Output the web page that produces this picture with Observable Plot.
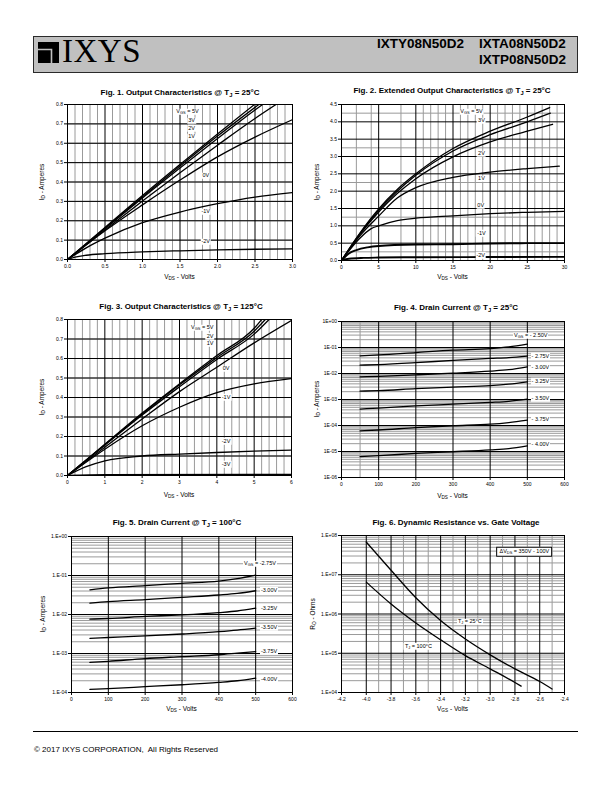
<!DOCTYPE html>
<html><head><meta charset="utf-8">
<script src="https://cdn.jsdelivr.net/npm/d3@7"></script>
<script src="https://cdn.jsdelivr.net/npm/@observablehq/plot@0.6"></script>
<style>
body{margin:0;background:#fff;}
#page{position:relative;width:612px;height:792px;overflow:hidden;background:#fff;font-family:"Liberation Sans",Arial,sans-serif;color:#000}
.abs{position:absolute;white-space:nowrap;line-height:1}
sub{font-size:72%;vertical-align:-0.3em;line-height:0}
.title{font-weight:bold;font-size:8px;transform:translate(-50%,-50%)}
.axl{font-size:6.5px;transform:translate(-50%,-50%)}
.ayl{font-size:6.5px;transform:translate(-50%,-50%) rotate(-90deg)}
.note{font-size:5.5px;background:#fff;padding:0.5px 1px}
</style></head><body><div id="page"></div>
<script>
// ---------------- DATA ----------------
// Fig. 1  Output characteristics @ 25C : [VDS, ID]
const f1_5V  = [[0,0],[0.5,0.165],[1,0.33],[1.5,0.49],[2,0.648],[2.5,0.802]];
const f1_3V  = [[0,0],[0.5,0.162],[1,0.324],[1.5,0.482],[2,0.637],[2.55,0.8]];
const f1_2V  = [[0,0],[0.5,0.159],[1,0.318],[1.5,0.472],[2,0.624],[2.5,0.772],[2.6,0.8]];
const f1_1V  = [[0,0],[0.5,0.152],[1,0.302],[1.5,0.448],[2,0.59],[2.5,0.728],[2.78,0.8]];
const f1_0V  = [[0,0],[0.5,0.148],[1,0.282],[1.5,0.41],[2,0.53],[2.5,0.632],[3,0.722]];
const f1_m1V = [[0,0],[0.25,0.06],[0.5,0.11],[1,0.19],[1.5,0.245],[2,0.288],[2.5,0.322],[3,0.345]];
const f1_m2V = [[0,0],[0.1,0.012],[0.25,0.022],[0.5,0.03],[1,0.039],[1.5,0.045],[2,0.05],[2.5,0.053],[3,0.055]];
const f1_labels = [[1.77,0.76,"V<sub>GS</sub> = 5V","end"],[1.72,0.714,"3V","end"],[1.72,0.676,"2V","end"],[1.72,0.632,"1V","end"],[1.85,0.43,"0V","middle"],[1.85,0.245,"-1V","middle"],[1.85,0.09,"-2V","middle"]];
const f1_xTicks = [0,0.5,1,1.5,2,2.5,3];
const f1_yTicks = [0,0.1,0.2,0.3,0.4,0.5,0.6,0.7,0.8];

// Fig. 2  Extended output characteristics @ 25C
const f2_5V  = [[0,0],[1,0.33],[2.5,0.8],[5,1.49],[7.5,2.05],[10,2.5],[15,3.23],[20,3.73],[25,4.14],[28,4.41]];
const f2_3V  = [[0,0],[1,0.32],[2.5,0.78],[5,1.45],[7.5,2.0],[10,2.46],[15,3.16],[20,3.63],[25,4.0],[28.1,4.25]];
const f2_2V  = [[0,0],[1,0.31],[2.5,0.76],[5,1.4],[7.5,1.93],[10,2.36],[15,2.99],[20,3.42],[25,3.73],[28.4,3.93]];
const f2_1V  = [[0,0],[1,0.3],[2.5,0.72],[5,1.28],[7.5,1.8],[10,2.1],[15,2.4],[20,2.55],[25,2.65],[29.3,2.72]];
const f2_0V  = [[0,0],[1,0.28],[2.5,0.65],[4,0.92],[5,1.0],[7.5,1.15],[10,1.22],[15,1.29],[20,1.35],[25,1.39],[30,1.42]];
const f2_m1V = [[0,0],[1,0.2],[2,0.3],[3.5,0.38],[5,0.42],[10,0.46],[15,0.47],[20,0.49],[25,0.5],[30,0.5]];
const f2_m2V = [[0,0],[1,0.05],[3,0.075],[5,0.085],[10,0.095],[20,0.1],[30,0.105]];
const f2_labels = [[19.2,4.27,"V<sub>GS</sub> = 5V","end"],[18.9,4.01,"3V","middle"],[18.9,3.06,"2V","middle"],[18.9,2.35,"1V","middle"],[18.8,1.56,"0V","middle"],[18.9,0.77,"-1V","middle"],[18.8,0.14,"-2V","middle"]];
const f2_xTicks = [0,5,10,15,20,25,30];
const f2_yTicks = [0,0.5,1,1.5,2,2.5,3,3.5,4,4.5];

// Fig. 3  Output characteristics @ 125C
const f3_5V  = [[0,0],[1,0.16],[2,0.32],[3,0.47],[4,0.615],[5,0.755],[5.2,0.8]];
const f3_2V  = [[0,0],[1,0.158],[2,0.315],[3,0.465],[4,0.605],[5,0.74],[5.3,0.8]];
const f3_1V  = [[0,0],[1,0.155],[2,0.31],[3,0.455],[4,0.595],[5,0.725],[5.4,0.8]];
const f3_0V  = [[0,0],[1,0.145],[2,0.29],[3,0.43],[4,0.555],[5,0.68],[6,0.795]];
const f3_m1V = [[0,0],[1,0.135],[2,0.255],[3,0.35],[4,0.425],[5,0.47],[6,0.497]];
const f3_m2V = [[0,0],[0.5,0.045],[1,0.075],[2,0.1],[3,0.11],[4,0.118],[5,0.125],[6,0.13]];
const f3_m3V = [[0,0],[1,0.004],[6,0.006]];
const f3_labels = [[3.95,0.754,"V<sub>GS</sub> = 5V","end"],[3.95,0.711,"2V","end"],[3.95,0.672,"1V","end"],[4.26,0.545,"0V","middle"],[4.26,0.40,"-1V","middle"],[4.26,0.173,"-2V","middle"],[4.26,0.054,"-3V","middle"]];
const f3_xTicks = [0,1,2,3,4,5,6];
const f3_yTicks = [0,0.1,0.2,0.3,0.4,0.5,0.6,0.7,0.8];

// Fig. 4  Drain current @ 25C (log)
const f4_vds   = [50,100,200,300,400,450,500];
const f4_m250 = [0.048,0.052,0.064,0.079,0.091,0.105,0.134];
const f4_m275 = [0.021,0.022,0.026,0.032,0.038,0.041,0.047];
const f4_m300 = [0.0074,0.0078,0.0089,0.0103,0.0123,0.014,0.018];
const f4_m325 = [0.0021,0.0022,0.0026,0.0030,0.0034,0.0039,0.0048];
const f4_m350 = [0.00043,0.00047,0.00057,0.00066,0.00077,0.00085,0.00103];
const f4_m375 = [6.2e-5,6.7e-5,8.3e-5,9.8e-5,1.12e-4,1.3e-4,1.6e-4];
const f4_m400 = [6.4e-6,6.9e-6,8.4e-6,9.8e-6,1.16e-5,1.3e-5,1.65e-5];
const f4_labels = [[463,0.265,"V<sub>GS</sub> = - 2.50V","start"],[510,0.044,"- 2.75V","start"],[510,0.017,"- 3.00V","start"],[510,0.0048,"- 3.25V","start"],[510,0.00103,"- 3.50V","start"],[510,1.6e-4,"- 3.75V","start"],[510,1.8e-5,"- 4.00V","start"]];
const f4_xTicks = [0,100,200,300,400,500,600];
const f4_yTicks = [1e-6,1e-5,1e-4,1e-3,1e-2,1e-1,1];

// Fig. 5  Drain current @ 100C (log)
const f5_vds   = [50,100,200,300,400,450,500];
const f5_m275 = [0.043,0.048,0.055,0.063,0.072,0.083,0.102];
const f5_m300 = [0.0195,0.0214,0.024,0.0275,0.0316,0.0347,0.0407];
const f5_m325 = [0.0076,0.0079,0.0089,0.0098,0.0112,0.0123,0.0145];
const f5_m350 = [0.00245,0.00257,0.00282,0.00316,0.00363,0.00398,0.00447];
const f5_m375 = [0.00059,0.00063,0.00074,0.00083,0.00093,0.00102,0.00112];
const f5_m400 = [1.2e-4,1.26e-4,1.41e-4,1.58e-4,1.82e-4,2.0e-4,2.34e-4];
const f5_labels = [[467,0.195,"V<sub>GS</sub> = -2.75V","start"],[513,0.041,"-3.00V","start"],[513,0.0138,"-3.25V","start"],[513,0.0045,"-3.50V","start"],[513,0.00107,"-3.75V","start"],[513,2.1e-4,"-4.00V","start"]];
const f5_xTicks = [0,100,200,300,400,500,600];
const f5_yTicks = [1e-4,1e-3,1e-2,1e-1,1];

// Fig. 6  Dynamic resistance vs gate voltage (log)
const f6_vgs25  = [-4.0,-3.8,-3.6,-3.4,-3.2,-3.0,-2.8,-2.6,-2.5];
const f6_ro25   = [6.8e7,1.3e7,2.6e6,6.8e5,2.3e5,9.1e4,4.0e4,1.9e4,1.23e4];
const f6_vgs100 = [-4.0,-3.8,-3.6,-3.4,-3.2,-3.0,-2.8,-2.75];
const f6_ro100  = [6.5e6,1.8e6,5.9e5,2.2e5,8.7e4,4.0e4,1.8e4,1.45e4];
const f6_labels = [[-3.16,10**5.79,"T<sub>J</sub> = 25°C","middle"],[-3.575,10**5.17,"T<sub>J</sub> = 100°C","middle"]];
const f6_box = [-2.72,10**7.57,"ΔV<sub>DS</sub> = 350V - 100V"];
const f6_xTicks = [-4.2,-4.0,-3.8,-3.6,-3.4,-3.2,-3.0,-2.8,-2.6,-2.4];
const f6_yTicks = [1e4,1e5,1e6,1e7,1e8];

// ---------------- HELPERS ----------------
const page = document.getElementById("page");
function addDiv(html, cls, css){const d=document.createElement("div");d.className="abs "+(cls||"");d.innerHTML=html;Object.assign(d.style,css||{});page.append(d);return d;}
const fmt1 = v => v.toFixed(1);
const fmtInt = v => String(v);
const logE = v => {const e=Math.round(Math.log10(v));return (e<0?"-":"+")+String(Math.abs(e)).padStart(2,"0");};
const fmtE = v => "1E"+logE(v);
const fmtDotE = v => "1.E"+logE(v);
function logMinor(e0,e1){const out=[];for(let e=e0;e<e1;e++)for(let k=2;k<=9;k++)out.push(k*10**e);return out;}
function logMajor(e0,e1){const out=[];for(let e=e0+1;e<e1;e++)out.push(10**e);return out;}
const pairs = (xs,ys)=>xs.map((x,i)=>[x,ys[i]]);

function chart(cfg){
  const [x0,y0,x1,y1]=cfg.frame;
  const left=x0-40, top=y0-6, width=(x1+8)-left, height=(y1+16)-top;
  const marks=[
    Plot.ruleX(cfg.xMinor,{stroke:"#9a9a9a",strokeWidth:1}),
    Plot.ruleY(cfg.yMinor,{stroke:"#9a9a9a",strokeWidth:1}),
    Plot.ruleX(cfg.xMajor,{stroke:"#000",strokeWidth:1}),
    Plot.ruleY(cfg.yMajor,{stroke:"#000",strokeWidth:1}),
    ...cfg.series.map(s=>Plot.line(s.pts,{x:d=>d[0],y:d=>d[1],stroke:"#000",strokeWidth:s.w||1.3,curve:"monotone-x",clip:true})),
    Plot.frame({stroke:"#000",strokeWidth:1})
  ];
  const svg=Plot.plot({
    width,height,
    marginLeft:x0-left,marginRight:left+width-x1,marginTop:y0-top,marginBottom:top+height-y1,
    x:{type:cfg.xType||"linear",domain:cfg.xDomain,ticks:cfg.xTicks,tickFormat:cfg.xFormat,tickSize:3,tickPadding:1.5,label:null},
    y:{type:cfg.yType||"linear",domain:cfg.yDomain,ticks:cfg.yTicks,tickFormat:cfg.yFormat,tickSize:3,tickPadding:1.5,label:null},
    style:{fontFamily:'"Liberation Sans", Arial, sans-serif',fontSize:"5px",color:"#000",background:"transparent",overflow:"visible"},
    marks
  });
  Object.assign(svg.style,{position:"absolute",left:left+"px",top:top+"px"});
  page.append(svg);
  const sx=svg.scale("x"), sy=svg.scale("y");
  const tr={end:"translate(-100%,-50%)",start:"translate(0,-50%)",middle:"translate(-50%,-50%)"};
  (cfg.labels||[]).forEach(([x,y,t,a])=>{
    addDiv(t,"note",{left:(left+sx.apply(x))+"px",top:(top+sy.apply(y))+"px",transform:tr[a]});
  });
  if(cfg.box){const [x,y,t]=cfg.box;addDiv(t,"note",{left:(left+sx.apply(x))+"px",top:(top+sy.apply(y))+"px",transform:tr.middle,border:"0.8px solid #000",padding:"1.5px 2px"});}
  addDiv(cfg.title,"title",{left:cfg.titlePos[0]+"px",top:cfg.titlePos[1]+"px"});
  addDiv(cfg.xLabel,"axl",{left:((x0+x1)/2)+"px",top:cfg.xLabelY+"px"});
  addDiv(cfg.yLabel,"ayl",{left:cfg.yLabelX+"px",top:((y0+y1)/2)+"px"});
}

// ---------------- HEADER / FOOTER ----------------
addDiv("","",{left:"33px",top:"36px",width:"545px",height:"37px",boxSizing:"border-box",background:"#c0c0c0",border:"1.6px solid #2a2a2a"});
addDiv('<svg width="21" height="21" viewBox="0 0 21 21"><rect width="21" height="21" fill="#000"/><path d="M0 7.5 H13.5 V21" fill="none" stroke="#c0c0c0" stroke-width="1.6"/></svg>',"",{left:"38px",top:"42px"});
addDiv("IXYS","",{left:"62px",top:"34.5px",fontFamily:'"Liberation Serif","Times New Roman",serif',fontSize:"33px",letterSpacing:"0.5px"});
addDiv("IXTY08N50D2","",{left:"377px",top:"37px",fontWeight:"bold",fontSize:"13.5px"});
addDiv("IXTA08N50D2","",{left:"479px",top:"37px",fontWeight:"bold",fontSize:"13.5px"});
addDiv("IXTP08N50D2","",{left:"479px",top:"53px",fontWeight:"bold",fontSize:"13.5px"});
addDiv("","",{left:"33px",top:"731px",width:"545px",height:"0",borderTop:"1.2px solid #000"});
addDiv("© 2017 IXYS CORPORATION,&nbsp; All Rights Reserved","",{left:"34px",top:"750px",transform:"translate(0,-50%)",fontSize:"8px"});

// ---------------- CHARTS ----------------
const lin = (a,b,s,excl)=>{const o=[];for(let i=Math.round(a/s);i<=Math.round(b/s);i++){const v=+(i*s).toFixed(4);if(!excl(v))o.push(v);}return o;};
const mult=(v,m)=>Math.abs(v/m-Math.round(v/m))<1e-6;

chart({frame:[67,104,292,259],xDomain:[0,3],yDomain:[0,0.8],xTicks:f1_xTicks,yTicks:f1_yTicks,xFormat:fmt1,yFormat:fmt1,
  xMajor:[0.5,1,1.5,2,2.5],xMinor:lin(0.1,2.9,0.1,v=>mult(v,0.5)),
  yMajor:[0.1,0.2,0.3,0.4,0.5,0.6,0.7],yMinor:lin(0.05,0.75,0.1,()=>false),
  series:[{pts:f1_5V},{pts:f1_3V},{pts:f1_2V},{pts:f1_1V},{pts:f1_0V},{pts:f1_m1V},{pts:f1_m2V}],
  labels:f1_labels,title:"Fig. 1. Output Characteristics @ T<sub>J</sub> = 25°C",titlePos:[180,92.7],
  xLabel:"V<sub>DS</sub> - Volts",xLabelY:277,yLabel:"I<sub>D</sub> - Amperes",yLabelX:41.7});

chart({frame:[341,104,564,260],xDomain:[0,30],yDomain:[0,4.5],xTicks:f2_xTicks,yTicks:f2_yTicks,xFormat:fmtInt,yFormat:fmt1,
  xMajor:[5,10,15,20,25],xMinor:[2,4,8,11,12,13,14,16,17,18,19,21,22,23,24,26,27,28,29],
  yMajor:[0.5,1,1.5,2,2.5,3,3.5,4],yMinor:[0.25,1.25,2.25,3.25,4.25],
  series:[{pts:f2_5V},{pts:f2_3V},{pts:f2_2V},{pts:f2_1V},{pts:f2_0V},{pts:f2_m1V,w:1.9},{pts:f2_m2V,w:1.9}],
  labels:f2_labels,title:"Fig. 2. Extended Output Characteristics @ T<sub>J</sub> = 25°C",titlePos:[452,91],
  xLabel:"V<sub>DS</sub> - Volts",xLabelY:277,yLabel:"I<sub>D</sub> - Amperes",yLabelX:317.3});

chart({frame:[67,319,291,475],xDomain:[0,6],yDomain:[0,0.8],xTicks:f3_xTicks,yTicks:f3_yTicks,xFormat:fmtInt,yFormat:fmt1,
  xMajor:[1,2,3,4,5],xMinor:lin(0.2,5.8,0.2,v=>mult(v,1)),
  yMajor:[0.1,0.2,0.3,0.4,0.5,0.6,0.7],yMinor:lin(0.05,0.75,0.1,()=>false),
  series:[{pts:f3_5V},{pts:f3_2V},{pts:f3_1V},{pts:f3_0V},{pts:f3_m1V},{pts:f3_m2V},{pts:f3_m3V}],
  labels:f3_labels,title:"Fig. 3. Output Characteristics @ T<sub>J</sub> = 125°C",titlePos:[181,306.7],
  xLabel:"V<sub>DS</sub> - Volts",xLabelY:494.5,yLabel:"I<sub>D</sub> - Amperes",yLabelX:41.7});

chart({frame:[341,321,564,477],xDomain:[0,600],yDomain:[1e-6,1],yType:"log",xTicks:f4_xTicks,yTicks:f4_yTicks,xFormat:fmtInt,yFormat:fmtE,
  xMajor:[100,200,300,400,500],xMinor:[50],
  yMajor:logMajor(-6,0),yMinor:logMinor(-6,0),
  series:[f4_m250,f4_m275,f4_m300,f4_m325,f4_m350,f4_m375,f4_m400].map(v=>({pts:pairs(f4_vds,v)})),
  labels:f4_labels,title:"Fig. 4. Drain Current @ T<sub>J</sub> = 25°C",titlePos:[456,307.7],
  xLabel:"V<sub>DS</sub> - Volts",xLabelY:496,yLabel:"I<sub>D</sub> - Amperes",yLabelX:316.7});

chart({frame:[71,536,292,692],xDomain:[0,600],yDomain:[1e-4,1],yType:"log",xTicks:f5_xTicks,yTicks:f5_yTicks,xFormat:fmtInt,yFormat:fmtDotE,
  xMajor:[100,200,300,400,500],xMinor:[],
  yMajor:logMajor(-4,0),yMinor:logMinor(-4,0),
  series:[f5_m275,f5_m300,f5_m325,f5_m350,f5_m375,f5_m400].map(v=>({pts:pairs(f5_vds,v)})),
  labels:f5_labels,title:"Fig. 5. Drain Current @ T<sub>J</sub> = 100°C",titlePos:[177,522.7],
  xLabel:"V<sub>DS</sub> - Volts",xLabelY:709,yLabel:"I<sub>D</sub> - Amperes",yLabelX:43.3});

chart({frame:[341,535,564,692],xDomain:[-4.2,-2.4],yDomain:[1e4,1e8],yType:"log",xTicks:f6_xTicks,yTicks:f6_yTicks,xFormat:fmt1,yFormat:fmtDotE,
  xMajor:[-4.0,-3.8,-3.6,-3.4,-3.2,-3.0,-2.8,-2.6],xMinor:[-3.9,-3.7,-3.5,-3.3,-3.1,-2.9,-2.7,-2.5],
  yMajor:logMajor(4,8),yMinor:logMinor(4,8),
  series:[{pts:pairs(f6_vgs25,f6_ro25)},{pts:pairs(f6_vgs100,f6_ro100)}],
  labels:f6_labels,box:f6_box,title:"Fig. 6. Dynamic Resistance vs. Gate Voltage",titlePos:[456,523.3],
  xLabel:"V<sub>GS</sub> - Volts",xLabelY:709,yLabel:"R<sub>O</sub> - Ohms",yLabelX:312.7});
</script></body></html>
